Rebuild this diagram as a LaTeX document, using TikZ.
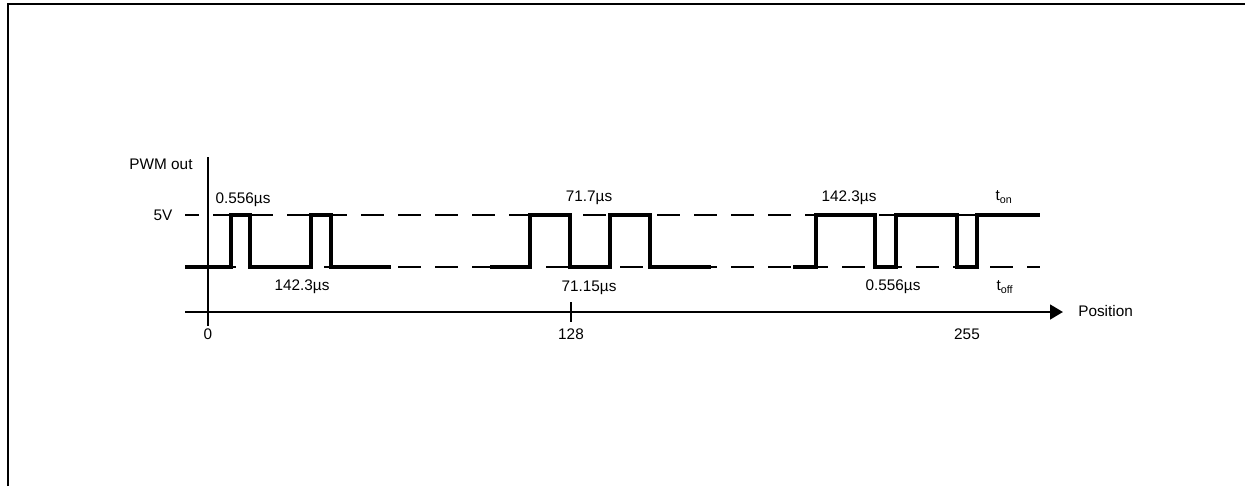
\documentclass[tikz,border=0pt]{standalone}
\usepackage{fontspec}
\setmainfont{Liberation Sans}
\usepackage{tikz}
\usetikzlibrary{arrows.meta}

\tikzset{
  axis/.style={line width=1.9pt},
  level/.style={line width=1.7pt, dash pattern=on 17.25pt off 10.5pt, dash phase=6.75pt},
  signal/.style={line width=2.4pt},
  lbl/.style={font=\fontsize{11.5}{13}\selectfont, inner sep=0pt}
}

\begin{document}
\begin{tikzpicture}[x=0.75pt, y=-0.75pt, >={Triangle[length=9.75pt, width=11pt]}]
  \useasboundingbox (0,0) rectangle (1245,486);
  % frame
  \draw [line width=2pt] (8,486) -- (8,4) -- (1245,4);
  % axes
  \coordinate (ytop) at (208,157);
  \coordinate (ybot) at (208,326);
  \coordinate (xleft) at (185,312);
  \coordinate (xright) at (1063,312);
  \draw [axis] (ytop) -- (ybot);
  \draw [axis, ->] (xleft) -- (xright);
  \draw [axis] (571,302) -- (571,322);
  % levels
  \draw [level] (185,215) -- (1040,215);
  \draw [level] (185,267) -- (1040,267);
  % pulses
  \draw [signal] (185,267) -- (231,267) -- (231,215) -- (250,215) -- (250,267)
    -- (311,267) -- (311,215) -- (331,215) -- (331,267) -- (391,267);
  \draw [signal] (490,267) -- (530,267) -- (530,215) -- (570,215) -- (570,267)
    -- (610,267) -- (610,215) -- (650,215) -- (650,267) -- (711,267);
  \draw [signal] (793,267) -- (816,267) -- (816,215) -- (875,215) -- (875,267)
    -- (896,267) -- (896,215) -- (957,215) -- (957,267) -- (977,267)
    -- (977,215) -- (1040,215);
  % labels
  \node [lbl] (pwm) at (161,164) {PWM out};
  \node [lbl] (five) at (163,215) {5V};
  \node [lbl] (pos) at (1078,311) [anchor=west] {Position};
  \node [lbl] (zero) at (208,334) {0};
  \node [lbl] (mid) at (571,334) {128};
  \node [lbl] (full) at (967,334) {255};
  \node [lbl] (ta) at (243,200) {0.556µs};
  \node [lbl] (tb) at (302,287) {142.3µs};
  \node [lbl] (tc) at (589,198) {71.7µs};
  \node [lbl] (td) at (589,288) {71.15µs};
  \node [lbl] (te) at (849,198) {142.3µs};
  \node [lbl] (tf) at (893,287) {0.556µs};
  \node [lbl] (ton) at (1004,197) {t\textsubscript{on}};
  \node [lbl] (toff) at (1005,287) {t\textsubscript{off}};
\end{tikzpicture}
\end{document}
